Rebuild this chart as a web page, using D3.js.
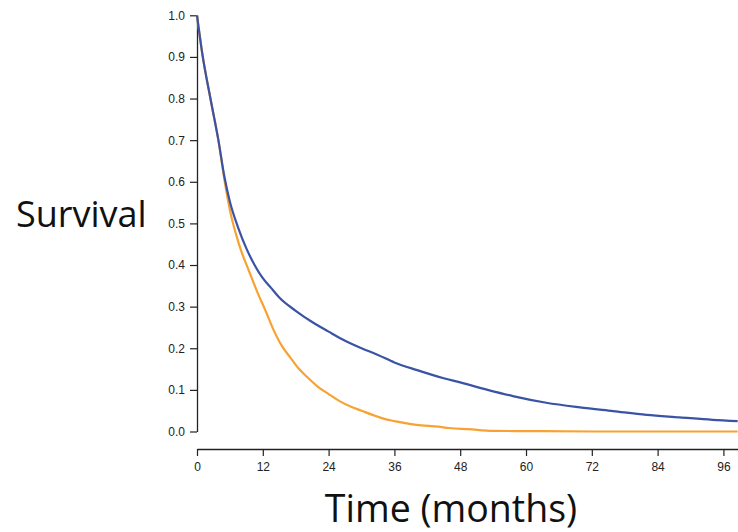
<!DOCTYPE html>
<html>
<head>
<meta charset="utf-8">
<script src="https://cdn.jsdelivr.net/npm/d3@7"></script>
<style>
  html, body { margin: 0; padding: 0; background: #fff; }
  svg { display: block; }
</style>
</head>
<body>
<svg id="chart" width="738" height="532"></svg>
<script>
// Kaplan–Meier style survival estimates, months vs. survival probability
const blueTimes = [0, 1, 2.45, 3.9, 5, 6, 7.5, 9, 10.5, 11.8, 13.5, 15, 18, 21, 24, 27, 30, 33, 36, 40, 45, 48, 53, 57.6, 63.7, 69.8, 75.9, 82, 88, 94, 98.6];
const blueSurvival = [1.0, 0.905, 0.8, 0.7, 0.612, 0.552, 0.49, 0.44, 0.40, 0.372, 0.345, 0.322, 0.29, 0.263, 0.24, 0.218, 0.2, 0.184, 0.166, 0.148, 0.128, 0.118, 0.1, 0.085, 0.069, 0.058, 0.049, 0.04, 0.034, 0.028, 0.025];

const orangeTimes = [0, 1, 2.45, 3.9, 5, 6, 7.8, 9.5, 11, 12.5, 14, 15.5, 17, 18.5, 20, 22, 24, 26, 28, 30, 32, 34, 36, 38, 40, 44, 46, 49.5, 54, 60, 72, 98.6];
const orangeSurvival = [1.0, 0.905, 0.8, 0.7, 0.605, 0.532, 0.444, 0.385, 0.335, 0.29, 0.243, 0.205, 0.178, 0.152, 0.132, 0.108, 0.09, 0.073, 0.06, 0.05, 0.04, 0.031, 0.025, 0.02, 0.016, 0.0115, 0.0084, 0.0055, 0.0015, 0.001, 0.0, 0.0];

const xTicks = [0, 12, 24, 36, 48, 60, 72, 84, 96];
const yTicks = [0.0, 0.1, 0.2, 0.3, 0.4, 0.5, 0.6, 0.7, 0.8, 0.9, 1.0];

const yTitle = "Survival";
const xTitle = "Time (months)";

const svg = d3.select("#chart");

const x = d3.scaleLinear().domain([0, 98.66]).range([197, 738]);
const y = d3.scaleLinear().domain([0, 1]).range([431.5, 15.3]);

const axisColor = "#222";
const tickFont = "'Liberation Sans', Arial, Helvetica, sans-serif";

// y axis (left)
const gy = svg.append("g")
  .attr("transform", "translate(197,0)")
  .call(d3.axisLeft(y).tickValues(yTicks).tickFormat(d3.format(".1f")).tickSizeOuter(0).tickSizeInner(7).tickPadding(5));

// x axis (offset below the plot, R style)
const gx = svg.append("g")
  .attr("transform", "translate(0,449)")
  .call(d3.axisBottom(x).tickValues(xTicks).tickFormat(d3.format("d")).tickSizeOuter(0).tickSizeInner(7).tickPadding(6));

[gx, gy].forEach(g => {
  g.select(".domain").attr("stroke", axisColor).attr("stroke-width", 1.3);
  g.selectAll(".tick line").attr("stroke", axisColor).attr("stroke-width", 1.2);
  g.selectAll(".tick text")
    .attr("fill", "#222")
    .style("font-family", tickFont)
    .style("font-size", "12px");
});

const line = d3.line()
  .x(d => x(d[0]))
  .y(d => y(d[1]))
  .curve(d3.curveMonotoneX);

const orangeData = d3.zip(orangeTimes, orangeSurvival);
const blueData = d3.zip(blueTimes, blueSurvival);

svg.append("path")
  .datum(orangeData)
  .attr("d", line)
  .attr("fill", "none")
  .attr("stroke", "#f7a233")
  .attr("stroke-width", 2.2)
  .attr("stroke-linejoin", "round");

svg.append("path")
  .datum(blueData)
  .attr("d", line)
  .attr("fill", "none")
  .attr("stroke", "#3a53a4")
  .attr("stroke-width", 2.2)
  .attr("stroke-linejoin", "round");

// axis titles
const titleFont = "'Open Sans', 'Noto Sans', sans-serif";

svg.append("text")
  .attr("x", 16)
  .attr("y", 227)
  .attr("fill", "#111")
  .style("font-family", titleFont)
  .style("font-size", "36px")
  .text(yTitle);

svg.append("text")
  .attr("x", 451)
  .attr("y", 522)
  .attr("text-anchor", "middle")
  .attr("fill", "#111")
  .style("font-family", titleFont)
  .style("font-size", "37.5px")
  .text(xTitle);
</script>
</body>
</html>
